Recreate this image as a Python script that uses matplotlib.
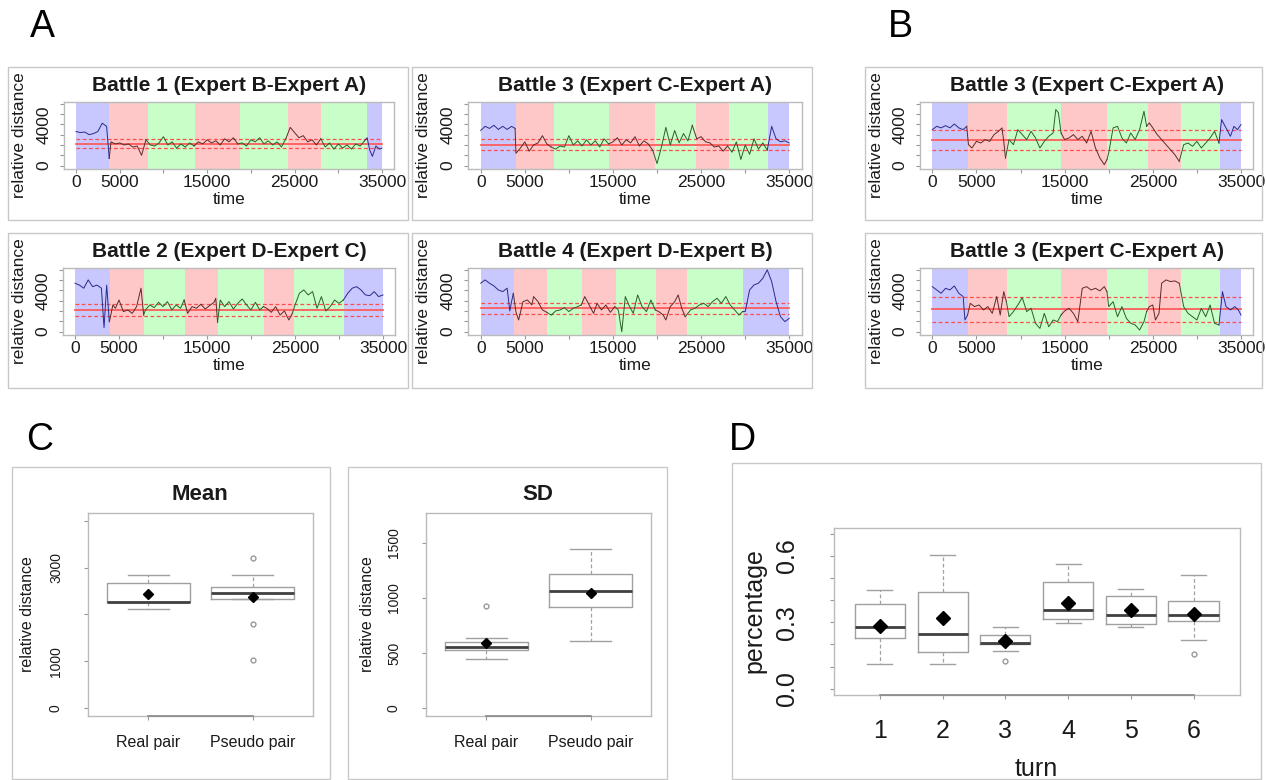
import numpy as np
import matplotlib.pyplot as plt
from matplotlib.patches import Rectangle

plt.rcParams['font.family'] = ['Liberation Sans', 'DejaVu Sans']


# ========================================
# DATA: TIME SERIES (relative distance)
# ========================================
A1_T = [0, 500, 1000, 1500, 2000, 2500, 3000, 3500, 3800,
        4000, 4500, 5000, 5500, 6000, 6500, 7000, 7500, 8000,
        8500, 9000, 9500, 10000, 10500, 11000, 11500, 12000, 12500, 13000, 13500,
        14000, 14500, 15000, 15500, 16000, 16500, 17000, 17500, 18000, 18500,
        19000, 19500, 20000, 20500, 21000, 21500, 22000, 22500, 23000, 23500, 24000,
        24500, 25000, 25500, 26000, 26500, 27000, 27500, 28000,
        28500, 29000, 29500, 30000, 30500, 31000, 31500, 32000, 32500, 33000,
        33300, 33600, 33900, 34300, 34700, 35000]
A1_D = [3300, 3200, 3250, 3000, 3100, 3300, 4100, 3800, 700,
        2300, 2100, 2200, 2000, 2100, 1800, 1900, 1000, 2500,
        2000, 1900, 2200, 2800, 2000, 2300, 1700, 2100, 1800, 2200, 1900,
        2300, 2100, 2500, 2200, 2400, 2000, 2600, 2300, 2700, 2100,
        2200, 1900, 2500, 2300, 2700, 2100, 2400, 2000, 2300, 1800, 2600,
        3700, 3200, 2700, 2900, 2300, 2500, 2000, 2600,
        1800, 2200, 1600, 2100, 1700, 2000, 1600, 2100, 1900, 2400,
        2700, 1500, 900, 1900, 1600, 1700]
A1_EDGES = [0, 3817, 8206, 13626, 18779, 24198, 28053, 33282, 35000]
A1_LINES = [2130, 1670, 2600]

A2_T = [0, 500, 1000, 1500, 2000, 2500, 3000, 3500, 3900,
        4000, 4500, 5000, 5500, 6000, 6500, 7000, 7500, 8000,
        8500, 9000, 9500, 10000, 10500, 11000, 11500, 12000, 12500, 13000, 13500, 14000, 14500,
        15000, 15500, 16000, 16500, 17000, 17500, 18000, 18500, 19000, 19500,
        20000, 20500, 21000, 21500, 22000, 22500, 23000, 23500, 24000,
        24500, 25000, 25500, 26000, 26500, 27000, 27500, 28000,
        28500, 29000, 29500, 30000, 30500, 31000, 31500, 32000, 32500,
        33000, 33500, 34000, 34500, 35000]
A2_D = [3400, 3800, 3600, 3900, 3500, 3800, 3500, 3800, 3600,
        1200, 1700, 2300, 1400, 2000, 2200, 2900, 2100, 1800,
        1600, 1900, 1800, 2900, 2000, 2400, 1900, 2500, 2000, 2400, 1800, 2600, 2100,
        2300, 2700, 2000, 2500, 2200, 2800, 1900, 2400, 2100, 1500,
        200, 1800, 3700, 2000, 3400, 2200, 3100, 2400, 3900,
        2600, 2800, 2300, 2200, 1800, 1900, 1400, 1900,
        1300, 2300, 600, 2000, 1100, 2600, 1600, 2200, 1500,
        3800, 2600, 2300, 2400, 2200]
A2_EDGES = [0, 3968, 8352, 14588, 19766, 24377, 28194, 32615, 35000]
A2_LINES = [2030, 1530, 2560]

A3_T = [0, 500, 1000, 1500, 2000, 2500, 3000, 3300, 3600, 3900,
        4000, 4300, 4600, 5000, 5500, 6000, 6500, 7000, 7500, 7800,
        8000, 8500, 9000, 9500, 10000, 10500, 11000, 11500, 12000, 12400,
        12800, 13300, 13800, 14300, 14800, 15300, 15800, 16000, 16200,
        16500, 17000, 17500, 18000, 18500, 19000, 19500, 20000, 20500, 21000, 21400,
        21800, 22300, 22800, 23300, 23800, 24300, 24700,
        25000, 25500, 26000, 26500, 27000, 27500, 28000, 28500, 29000, 29500, 30000, 30500,
        31000, 31500, 32000, 32500, 33000, 33500, 34000, 34500, 35000]
A3_D = [4680, 4500, 4200, 5000, 4350, 4500, 4200, 390, 4500, 970,
        1300, 2580, 2260, 3060, 1940, 2100, 1770, 2420, 4200, 1610,
        2100, 2580, 2320, 2840, 2420, 2900, 2100, 2580, 2260, 3060,
        1770, 2420, 2260, 2650, 2190, 2520, 2840, 3230, 900,
        3060, 2420, 2900, 2190, 2740, 3160, 2580, 2100, 2840, 2100, 2420,
        2260, 1870, 2420, 1610, 2000, 1130, 1770,
        2580, 3710, 4030, 3550, 3870, 2260, 3390, 2000, 2420, 3060, 2740, 3060,
        3710, 4200, 4350, 4030, 3550, 3480, 3870, 3390, 3550]
A3_EDGES = [0, 3973, 7832, 12448, 16232, 21453, 24858, 30533, 35000]
A3_LINES = [2100, 1550, 2660]

A4_T = [0, 500, 1000, 1500, 2000, 2500, 3000, 3300, 3500, 3700,
        4000, 4300, 4800, 5300, 5800, 6000, 6500, 7000, 7500,
        8000, 8500, 9000, 9500, 10000, 10500, 11000, 11400,
        11800, 12300, 12800, 13200, 13700, 14200, 14700, 15200,
        15600, 16000, 16400, 16800, 17300, 17800, 18300, 18800, 19300, 19800,
        20200, 20700, 21000, 21500, 22000, 22400, 22800, 23200,
        23800, 24300, 24800, 25300, 25800, 26300, 26800, 27300, 27800, 28300, 28800, 29300, 29700,
        30000, 30500, 31000, 31500, 32000, 32500, 33000, 33500, 34000, 34500, 35000]
A4_D = [4680, 5000, 4680, 4420, 4030, 3870, 4200, 2000, 2900, 3700,
        1900, 1130, 2900, 3060, 2580, 3390, 2900, 2100, 1870,
        1600, 2000, 2100, 2320, 1940, 2260, 2420, 2580,
        3390, 2580, 1770, 2740, 2100, 2580, 1870, 2420,
        2100, 0, 3390, 2580, 1770, 3550, 2420, 1940, 3060, 2100,
        1940, 1610, 1130, 2420, 2900, 3550, 2260, 1450,
        2100, 2260, 2580, 2740, 2420, 2900, 3230, 2740, 3390, 2580, 2100, 1610, 1940,
        1940, 4030, 4520, 4680, 5160, 5970, 4840, 2900, 1450, 970, 1290]
A4_EDGES = [0, 3780, 7560, 11450, 15340, 19840, 23360, 29780, 35000]
A4_LINES = [2260, 1680, 2800]

B1_T = [0, 500, 1000, 1500, 2000, 2500, 3000, 3500, 3900,
        4100, 4500, 5000, 5500, 6000, 6500, 7000, 7500, 7900, 8100, 8300,
        8700, 9200, 9700, 10200, 10700, 11200, 11700, 12200, 12700, 13200, 13700, 14000, 14300, 14600,
        15000, 15500, 16000, 16500, 17000, 17500, 18000, 18500, 19000, 19500, 19800,
        20000, 20500, 21000, 21500, 22000, 22500, 23000, 23500, 24000, 24300,
        24600, 25000, 25500, 26000, 26500, 27000, 27500, 28000,
        28500, 29000, 29500, 30000, 30500, 31000, 31500, 32000, 32500,
        32800, 33300, 33800, 34200, 34600, 35000]
B1_D = [3480, 3800, 3650, 3870, 3650, 4030, 3650, 3480, 3800,
        2030, 1710, 2350, 2190, 2520, 2350, 3000, 3320, 3650, 2350, 740,
        2520, 2030, 3480, 3000, 2520, 3320, 2680, 1710, 2350, 2840, 3160, 5420, 5100, 3160,
        2520, 2680, 3000, 2520, 2840, 2190, 3320, 1710, 740, 100, 580,
        1230, 3650, 3800, 2680, 2190, 3160, 2520, 3480, 5260, 3800,
        4130, 3650, 3000, 2520, 2030, 1550, 1060, 420,
        2030, 2190, 1870, 2350, 1710, 2190, 2680, 3320, 2190,
        4450, 3650, 2840, 3800, 3480, 3970]
B1_EDGES = [0, 4006, 8428, 14626, 19842, 24453, 28194, 32615, 35000]
B1_LINES = [2450, 1480, 3420]

B2_T = [0, 500, 1000, 1500, 2000, 2500, 3000, 3500, 3700, 4000,
        4300, 4800, 5300, 5800, 6300, 6800, 7300, 7700, 8100, 8400,
        8700, 9200, 9700, 10200, 10700, 11200, 11700, 12200, 12700, 13200, 13700, 14200, 14600,
        15000, 15500, 16000, 16500, 17000, 17500, 18000, 18500, 19000, 19500, 19800,
        20000, 20500, 21000, 21500, 22000, 22500, 23000, 23500, 24000, 24300,
        24600, 25000, 25300, 25700, 26000, 26500, 27000, 27500, 28000,
        28500, 29000, 29500, 30000, 30500, 31000, 31500, 32000, 32500,
        32900, 33300, 33800, 34300, 34700, 35000]
B2_D = [4350, 4030, 3710, 4190, 4030, 4420, 3710, 3390, 1130, 1610,
        2740, 2420, 2580, 2100, 2420, 1770, 3390, 1610, 3870, 2900,
        1450, 1940, 2580, 3290, 1940, 2260, 810, 320, 1770, 480, 1130, 970, 1610,
        2000, 2260, 1770, 970, 4190, 4350, 4030, 4190, 3940, 4350, 3870,
        2420, 2900, 1450, 2420, 1290, 810, 650, 160, 970, 1940,
        2420, 2580, 1130, 1770, 4680, 5000, 4840, 4900, 4680,
        2420, 1770, 1450, 1130, 2260, 1450, 2580, 810, 650,
        3870, 2420, 2100, 2420, 2100, 1610]
B2_EDGES = B1_EDGES
B2_LINES = [2160, 940, 3390]

TS_XTICKS = [0, 5000, 10000, 15000, 20000, 25000, 30000, 35000]
TS_XLABELS = ['0', '5000', '', '15000', '', '25000', '', '35000']
TS_YTICKS = [0, 1000, 2000, 3000, 4000, 5000, 6000]
TS_YLABELS = ['0', '', '', '', '4000', '', '']


# ========================================
# DATA: BOXPLOT STATISTICS
# ========================================
PAIR_LABELS = ['Real pair', 'Pseudo pair']

MEAN_MED = [2270, 2464]
MEAN_Q1 = [2270, 2321]
MEAN_Q3 = [2679, 2593]
MEAN_WLO = [2121, 2321]
MEAN_WHI = [2850, 2850]
MEAN_AVG = [2429, 2379]
MEAN_OUT = [[], [3200, 1800, 1029]]

SD_MED = [555, 1067]
SD_Q1 = [530, 915]
SD_Q3 = [597, 1218]
SD_WLO = [448, 612]
SD_WHI = [636, 1439]
SD_AVG = [591, 1045]
SD_OUT = [[924], []]

TURNS = ['1', '2', '3', '4', '5', '6']
TURN_MED = [0.280, 0.246, 0.208, 0.357, 0.331, 0.334]
TURN_Q1 = [0.228, 0.166, 0.203, 0.317, 0.292, 0.306]
TURN_Q3 = [0.383, 0.438, 0.242, 0.480, 0.420, 0.398]
TURN_WLO = [0.112, 0.112, 0.169, 0.295, 0.280, 0.222]
TURN_WHI = [0.448, 0.602, 0.277, 0.562, 0.452, 0.514]
TURN_AVG = [0.283, 0.320, 0.215, 0.388, 0.354, 0.338]
TURN_OUT = [[], [], [0.126], [], [], [0.157]]


# ========================================
# FIGURE / HELPERS (pixel layout)
# ========================================
W, H = 1266, 780
fig = plt.figure(figsize=(W / 100, H / 100), dpi=100)

TXT = '#1a1a1a'
FRAME = '#bbbbbb'
BAND_FILL = ['#c8c8ff', '#ffc8c8', '#c8ffc8', '#ffc8c8',
             '#c8ffc8', '#ffc8c8', '#c8ffc8', '#c8c8ff']
BAND_LINE = ['#2a2a8a', '#5a2a2a', '#2a5f2a', '#5a2a2a',
             '#2a5f2a', '#5a2a2a', '#2a5f2a', '#2a2a8a']


def px_axes(left, top, right, bottom):
    return fig.add_axes([left / W, 1 - bottom / H,
                         (right - left) / W, (bottom - top) / H])


def ftext(x, y, s, **kw):
    kw.setdefault('ha', 'center')
    kw.setdefault('va', 'center')
    kw.setdefault('color', TXT)
    return fig.text(x / W, 1 - y / H, s, **kw)


def outer_box(left, top, right, bottom):
    fig.add_artist(Rectangle((left / W, 1 - bottom / H),
                             (right - left) / W, (bottom - top) / H,
                             transform=fig.transFigure, fill=False,
                             ec='#c8c8c8', lw=1))


def style_frame(ax):
    for sp in ax.spines.values():
        sp.set_color(FRAME)
        sp.set_linewidth(1)
    ax.tick_params(direction='out', length=3, width=0.8, color='#999999',
                   labelcolor=TXT)


def axis_line(ax, x_from, x_to):
    # R draws the x axis line only between the first and last tick
    ax.plot([x_from, x_to], [0, 0], color='#888888', lw=1.2,
            transform=ax.get_xaxis_transform(), clip_on=False, zorder=5)


# ========================================
# PANELS A / B: BATTLE TIME SERIES
# ========================================
def battle(box, x0, x1, top, bottom, title, t, d, edges, lines):
    outer_box(*box)
    span = x1 - x0
    ax = px_axes(x0 - 0.04 * span, top, x1 + 0.04 * span, bottom)
    ax.set_xlim(-1400, 36400)
    ax.set_ylim(-320, 6150)
    t = np.array(t)
    d = np.array(d)
    for i in range(len(edges) - 1):
        ax.axvspan(edges[i], edges[i + 1], color=BAND_FILL[i], lw=0, zorder=0)
        idx = np.where((t >= edges[i]) & (t <= edges[i + 1]))[0]
        if len(idx) == 0:
            continue
        if idx[0] > 0:
            idx = np.r_[idx[0] - 1, idx]
        ax.plot(t[idx], d[idx], color=BAND_LINE[i], lw=0.7, zorder=3)
    ax.plot([0, 35000], [lines[0]] * 2, color='#ff5c5c', lw=1.3, zorder=2)
    for v in lines[1:]:
        ax.plot([0, 35000], [v, v], color='#ff4c4c', lw=0.9,
                ls=(0, (3, 2)), zorder=2)
    style_frame(ax)
    ax.set_xticks(TS_XTICKS)
    ax.set_xticklabels(TS_XLABELS, fontsize=12.5)
    ax.set_yticks(TS_YTICKS)
    ax.set_yticklabels(TS_YLABELS, fontsize=12.5, rotation=90, va='center')
    ax.tick_params(axis='x', pad=1)
    ax.tick_params(axis='y', pad=6)
    cx = (x0 + x1) / 2
    ftext(cx, top - 11, title, fontsize=15, fontweight='bold', va='baseline')
    ftext(cx, bottom + 31, 'time', fontsize=12.5)
    ftext(box[0] + 12, (top + bottom) / 2, 'relative distance',
          fontsize=12.5, rotation=90)
    return ax


battle((8, 67, 408, 220), 76, 382, 102, 169,
       'Battle 1 (Expert B-Expert A)', A1_T, A1_D, A1_EDGES, A1_LINES)
battle((412, 67, 812, 220), 480.7, 789.3, 102, 169,
       'Battle 3 (Expert C-Expert A)', A2_T, A2_D, A2_EDGES, A2_LINES)
battle((8, 233, 408, 388), 75, 383, 268, 335,
       'Battle 2 (Expert D-Expert C)', A3_T, A3_D, A3_EDGES, A3_LINES)
battle((412, 233, 812, 388), 480.7, 789.3, 268, 335,
       'Battle 4 (Expert D-Expert B)', A4_T, A4_D, A4_EDGES, A4_LINES)
battle((865, 67, 1262, 220), 932.3, 1241, 102, 169,
       'Battle 3 (Expert C-Expert A)', B1_T, B1_D, B1_EDGES, B1_LINES)
battle((865, 233, 1262, 388), 932.3, 1241, 268, 335,
       'Battle 3 (Expert C-Expert A)', B2_T, B2_D, B2_EDGES, B2_LINES)


# ========================================
# BOXPLOT HELPER
# ========================================
def make_stats(med, q1, q3, wlo, whi, avg, out):
    return [dict(med=med[i], q1=q1[i], q3=q3[i], whislo=wlo[i],
                 whishi=whi[i], mean=avg[i], fliers=out[i])
            for i in range(len(med))]


def draw_box(ax, stats, msize):
    ax.bxp(stats, positions=range(1, len(stats) + 1), widths=0.8,
           capwidths=0.4, showmeans=True,
           boxprops=dict(color='#a0a0a0', lw=1),
           whiskerprops=dict(color='#a0a0a0', lw=0.9, ls=(0, (3, 2))),
           capprops=dict(color='#a0a0a0', lw=1),
           medianprops=dict(color='#404040', lw=2),
           meanprops=dict(marker='D', markerfacecolor='black',
                          markeredgecolor='black', markersize=msize),
           flierprops=dict(marker='o', markerfacecolor='none',
                           markeredgecolor='#999999', markersize=3.5))


# ========================================
# PANEL C: MEAN / SD
# ========================================
outer_box(12, 467, 330, 779)
ax_m = px_axes(88, 513, 313, 716)
draw_box(ax_m, make_stats(MEAN_MED, MEAN_Q1, MEAN_Q3, MEAN_WLO,
                          MEAN_WHI, MEAN_AVG, MEAN_OUT), 5)
ax_m.set_xlim(0.42, 2.58)
ax_m.set_ylim(-160, 4160)
style_frame(ax_m)
axis_line(ax_m, 1, 2)
ax_m.set_xticks([1, 2])
ax_m.set_xticklabels(PAIR_LABELS, fontsize=11.5)
ax_m.set_yticks([0, 1000, 2000, 3000, 4000])
ax_m.set_yticklabels(['0', '1000', '', '3000', ''], fontsize=10,
                     rotation=90, va='center')
ax_m.tick_params(axis='x', pad=11)
ax_m.tick_params(axis='y', pad=15)
ftext(200, 500, 'Mean', fontsize=16, fontweight='bold', va='baseline')
ftext(28, 614, 'relative distance', fontsize=11.5, rotation=90)

outer_box(348, 467, 667, 779)
ax_s = px_axes(426, 513, 651, 716)
draw_box(ax_s, make_stats(SD_MED, SD_Q1, SD_Q3, SD_WLO,
                          SD_WHI, SD_AVG, SD_OUT), 5)
ax_s.set_xlim(0.42, 2.58)
ax_s.set_ylim(-68, 1768)
style_frame(ax_s)
axis_line(ax_s, 1, 2)
ax_s.set_xticks([1, 2])
ax_s.set_xticklabels(PAIR_LABELS, fontsize=11.5)
ax_s.set_yticks([0, 500, 1000, 1500])
ax_s.set_yticklabels(['0', '500', '1000', '1500'], fontsize=10,
                     rotation=90, va='center')
ax_s.tick_params(axis='x', pad=11)
ax_s.tick_params(axis='y', pad=15)
ftext(538, 500, 'SD', fontsize=16, fontweight='bold', va='baseline')
ftext(368, 614, 'relative distance', fontsize=11.5, rotation=90)


# ========================================
# PANEL D: PERCENTAGE BY TURN
# ========================================
outer_box(732, 463, 1261, 779)
ax_d = px_axes(833.5, 527.5, 1240, 695)
draw_box(ax_d, make_stats(TURN_MED, TURN_Q1, TURN_Q3, TURN_WLO,
                          TURN_WHI, TURN_AVG, TURN_OUT), 7.5)
ax_d.set_xlim(0.26, 6.74)
ax_d.set_ylim(-0.028, 0.728)
style_frame(ax_d)
axis_line(ax_d, 1, 6)
ax_d.set_xticks(range(1, 7))
ax_d.set_xticklabels(TURNS, fontsize=18)
ax_d.set_yticks(np.arange(0, 0.71, 0.1))
ax_d.set_yticklabels(['0.0', '', '', '0.3', '', '', '0.6', ''], fontsize=18,
                     rotation=90, va='center')
ax_d.tick_params(axis='x', pad=14)
ax_d.tick_params(axis='y', pad=22)
ftext(1036, 769, 'turn', fontsize=18)
ftext(754, 611, 'percentage', fontsize=18, rotation=90)


# ========================================
# PANEL LETTERS
# ========================================
for letter, x, y in [('A', 42, 27), ('B', 900, 27), ('C', 40, 440), ('D', 742, 440)]:
    ftext(x, y, letter, fontsize=27, color='black')

fig.savefig('out.png', dpi=100)
